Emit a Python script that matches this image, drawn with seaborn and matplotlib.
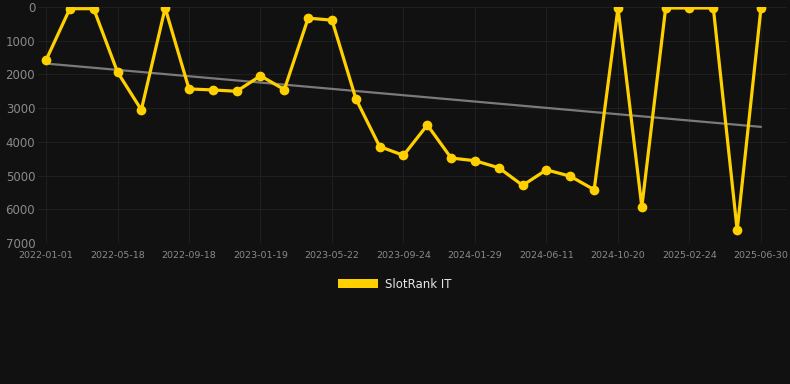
import numpy as np
import pandas as pd
import matplotlib
matplotlib.use("Agg")
import matplotlib.pyplot as plt
from matplotlib.patches import Patch
import seaborn as sns

# rank per snapshot (lower is better)
ranks = [1580, 50, 50, 1930, 3050, 30, 2430, 2460, 2500, 2040, 2450, 330, 390, 2720,
         4140, 4400, 3500, 4480, 4560, 4770, 5290, 4830, 5020, 5420, 30, 5930, 30,
         30, 30, 6620, 30]
tick_labels = ['2022-01-01', '2022-05-18', '2022-09-18', '2023-01-19', '2023-05-22',
               '2023-09-24', '2024-01-29', '2024-06-11', '2024-10-20', '2025-02-24',
               '2025-06-30']
series_name = 'SlotRank IT'

bg = '#111111'
gold = '#FFD000'

sns.set_theme(style="dark")
plt.rcParams['font.family'] = ['DejaVu Sans']

df = pd.DataFrame({'idx': np.arange(len(ranks)), 'rank': ranks})

fig = plt.figure(figsize=(7.9, 3.84), dpi=100, facecolor=bg)
ax = fig.add_axes([38/790, 1-243/384, (787-38)/790, (243-7)/384])
ax.set_facecolor(bg)

# trend line
sns.regplot(x='idx', y='rank', data=df, scatter=False, ci=None, ax=ax,
            line_kws={'color': '#7a7a7a', 'lw': 1.6, 'zorder': 2})

sns.lineplot(x='idx', y='rank', data=df, ax=ax, color=gold, lw=2.3,
             marker='o', markersize=7, markeredgewidth=0,
             solid_joinstyle='miter', zorder=3)

ax.set_ylim(7000, 0)
ax.set_xlim(-8/23.83, 30 + 26/23.83)
ax.set_yticks(range(0, 7001, 1000))
ax.set_xticks(range(0, len(ranks), 3))
ax.set_xticklabels(tick_labels)
ax.tick_params(axis='y', labelsize=8.5, colors='#8a8a8a', length=0, pad=2)
ax.tick_params(axis='x', labelsize=6.8, colors='#8a8a8a', length=0, pad=6)
ax.grid(True, color='#1f1f1f', lw=0.8)
ax.set_axisbelow(True)
for s in ax.spines.values():
    s.set_visible(False)
ax.set_xlabel('')
ax.set_ylabel('')

fig.legend(handles=[Patch(facecolor=gold, edgecolor='none', label=series_name)],
           loc='center', bbox_to_anchor=(0.5, 1-284/384), frameon=False,
           fontsize=8.5, labelcolor='#e6e6e6', handlelength=3.4, handleheight=0.9,
           handletextpad=0.6)

fig.savefig('out.png', dpi=100, facecolor=bg)
